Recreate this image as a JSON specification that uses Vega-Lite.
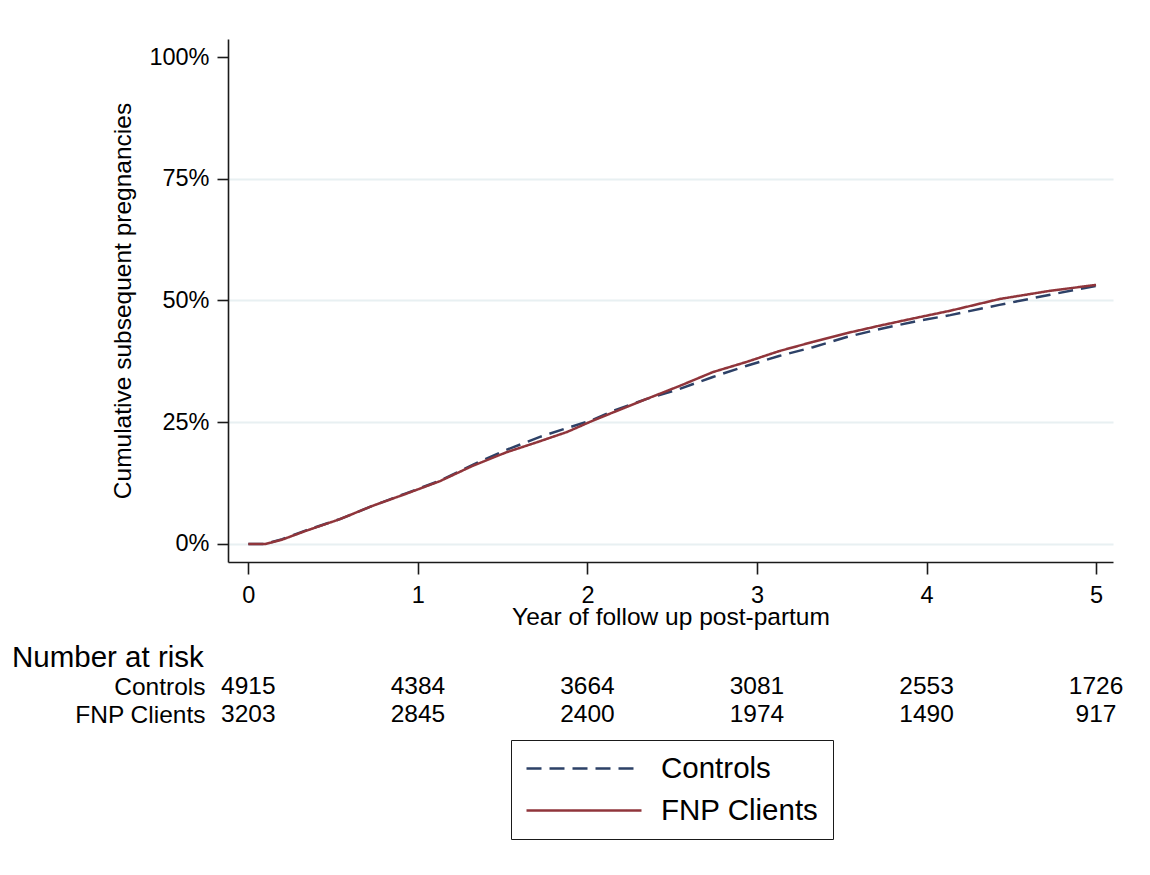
{
  "$schema": "https://vega.github.io/schema/vega-lite/v6.json",
  "background": "white",
  "padding": {"left": 12, "top": 39, "right": 20, "bottom": 20},
  "bounds": "flush",
  "spacing": 111,
  "config": {
    "font": "Liberation Sans",
    "view": {"stroke": null},
    "axis": {"labelColor": "#000", "titleColor": "#000", "domainColor": "#1a1a1a", "tickColor": "#1a1a1a", "domainWidth": 1.6, "tickWidth": 1.6, "labelFont": "Liberation Sans", "titleFont": "Liberation Sans", "titleFontWeight": "normal"}
  },
  "datasets": {
    "curves": [
      {"group": "Controls", "t": 0, "p": 0},
      {"group": "Controls", "t": 0.1, "p": 0},
      {"group": "Controls", "t": 0.2, "p": 0.010},
      {"group": "Controls", "t": 0.34, "p": 0.028},
      {"group": "Controls", "t": 0.54, "p": 0.051},
      {"group": "Controls", "t": 0.73, "p": 0.078},
      {"group": "Controls", "t": 0.93, "p": 0.104},
      {"group": "Controls", "t": 1.13, "p": 0.130},
      {"group": "Controls", "t": 1.32, "p": 0.162},
      {"group": "Controls", "t": 1.52, "p": 0.193},
      {"group": "Controls", "t": 1.72, "p": 0.220},
      {"group": "Controls", "t": 1.88, "p": 0.238},
      {"group": "Controls", "t": 2.03, "p": 0.255},
      {"group": "Controls", "t": 2.15, "p": 0.273},
      {"group": "Controls", "t": 2.35, "p": 0.298},
      {"group": "Controls", "t": 2.54, "p": 0.318},
      {"group": "Controls", "t": 2.74, "p": 0.343},
      {"group": "Controls", "t": 2.94, "p": 0.366},
      {"group": "Controls", "t": 3.13, "p": 0.386},
      {"group": "Controls", "t": 3.33, "p": 0.404},
      {"group": "Controls", "t": 3.53, "p": 0.425},
      {"group": "Controls", "t": 3.72, "p": 0.441},
      {"group": "Controls", "t": 3.92, "p": 0.456},
      {"group": "Controls", "t": 4.14, "p": 0.470},
      {"group": "Controls", "t": 4.43, "p": 0.491},
      {"group": "Controls", "t": 4.73, "p": 0.512},
      {"group": "Controls", "t": 5.0, "p": 0.530},
      {"group": "FNP Clients", "t": 0, "p": 0},
      {"group": "FNP Clients", "t": 0.1, "p": 0},
      {"group": "FNP Clients", "t": 0.2, "p": 0.009},
      {"group": "FNP Clients", "t": 0.34, "p": 0.027},
      {"group": "FNP Clients", "t": 0.54, "p": 0.051},
      {"group": "FNP Clients", "t": 0.73, "p": 0.078},
      {"group": "FNP Clients", "t": 0.93, "p": 0.103},
      {"group": "FNP Clients", "t": 1.13, "p": 0.129},
      {"group": "FNP Clients", "t": 1.32, "p": 0.160},
      {"group": "FNP Clients", "t": 1.52, "p": 0.188},
      {"group": "FNP Clients", "t": 1.72, "p": 0.211},
      {"group": "FNP Clients", "t": 1.88, "p": 0.230},
      {"group": "FNP Clients", "t": 2.03, "p": 0.253},
      {"group": "FNP Clients", "t": 2.15, "p": 0.270},
      {"group": "FNP Clients", "t": 2.35, "p": 0.298},
      {"group": "FNP Clients", "t": 2.54, "p": 0.324},
      {"group": "FNP Clients", "t": 2.74, "p": 0.353},
      {"group": "FNP Clients", "t": 2.94, "p": 0.374},
      {"group": "FNP Clients", "t": 3.13, "p": 0.396},
      {"group": "FNP Clients", "t": 3.33, "p": 0.415},
      {"group": "FNP Clients", "t": 3.53, "p": 0.433},
      {"group": "FNP Clients", "t": 3.72, "p": 0.448},
      {"group": "FNP Clients", "t": 3.92, "p": 0.463},
      {"group": "FNP Clients", "t": 4.14, "p": 0.479},
      {"group": "FNP Clients", "t": 4.43, "p": 0.503},
      {"group": "FNP Clients", "t": 4.73, "p": 0.520},
      {"group": "FNP Clients", "t": 5.0, "p": 0.532}
    ],
    "risk": [
      {"group": "Controls", "t": 0, "n": 4915},
      {"group": "Controls", "t": 1, "n": 4384},
      {"group": "Controls", "t": 2, "n": 3664},
      {"group": "Controls", "t": 3, "n": 3081},
      {"group": "Controls", "t": 4, "n": 2553},
      {"group": "Controls", "t": 5, "n": 1726},
      {"group": "FNP Clients", "t": 0, "n": 3203},
      {"group": "FNP Clients", "t": 1, "n": 2845},
      {"group": "FNP Clients", "t": 2, "n": 2400},
      {"group": "FNP Clients", "t": 3, "n": 1974},
      {"group": "FNP Clients", "t": 4, "n": 1490},
      {"group": "FNP Clients", "t": 5, "n": 917}
    ]
  },
  "vconcat": [
    {
      "width": 885,
      "height": 523,
      "data": {"name": "curves"},
      "mark": {"type": "line", "strokeWidth": 2.5, "interpolate": "linear"},
      "encoding": {
        "x": {
          "field": "t", "type": "quantitative",
          "scale": {"domain": [-0.12, 5.1], "nice": false, "zero": false},
          "axis": {"values": [0, 1, 2, 3, 4, 5], "title": "Year of follow up post-partum", "grid": false, "tickSize": 12, "labelFontSize": 23.5, "labelPadding": 9, "titleFontSize": 24.5, "titlePadding": -1}
        },
        "y": {
          "field": "p", "type": "quantitative",
          "scale": {"domain": [-0.037, 1.037], "nice": false, "zero": false},
          "axis": {"values": [0, 0.25, 0.5, 0.75, 1], "format": ".0%", "title": "Cumulative subsequent pregnancies", "tickSize": 11, "labelFontSize": 23.5, "labelPadding": 8, "titleFontSize": 24.5, "titlePadding": 13, "grid": true, "gridColor": "#e8f0f2", "gridWidth": 2, "gridOpacity": {"condition": {"test": "datum.value >= 1", "value": 0}, "value": 1}}
        },
        "color": {
          "field": "group", "type": "nominal",
          "scale": {"domain": ["Controls", "FNP Clients"], "range": ["#2d4167", "#90353b"]},
          "legend": {"orient": "none", "legendX": 283, "legendY": 701, "title": null, "strokeColor": "#1a1a1a", "padding": 14, "labelFontSize": 29.5, "labelLimit": 400, "labelColor": "#000", "labelOffset": 18, "rowPadding": 12, "symbolType": "stroke", "symbolSize": 13225, "symbolStrokeWidth": 2.5, "clipHeight": 29, "fillColor": "white"}
        },
        "strokeDash": {
          "field": "group", "type": "nominal",
          "scale": {"domain": ["Controls", "FNP Clients"], "range": [[15, 8], [1, 0]]}
        }
      }
    },
    {
      "width": 885,
      "height": 56,
      "data": {"name": "risk"},
      "title": {"text": "Number at risk", "anchor": "start", "frame": "group", "dx": -216, "offset": -23, "baseline": "alphabetic", "fontSize": 29.5, "fontWeight": "normal", "color": "#000", "font": "Liberation Sans"},
      "mark": {"type": "text", "fontSize": 24.5, "color": "#000", "align": "center", "baseline": "middle"},
      "encoding": {
        "x": {"field": "t", "type": "quantitative", "scale": {"domain": [-0.12, 5.1], "nice": false, "zero": false}, "axis": null},
        "y": {"field": "group", "type": "nominal", "scale": {"domain": ["Controls", "FNP Clients"], "paddingInner": 0, "paddingOuter": 0}, "axis": {"title": null, "domain": false, "ticks": false, "labelPadding": 23, "labelFontSize": 24.5, "labelColor": "#000"}},
        "text": {"field": "n", "type": "quantitative", "format": "d"}
      }
    }
  ]
}
